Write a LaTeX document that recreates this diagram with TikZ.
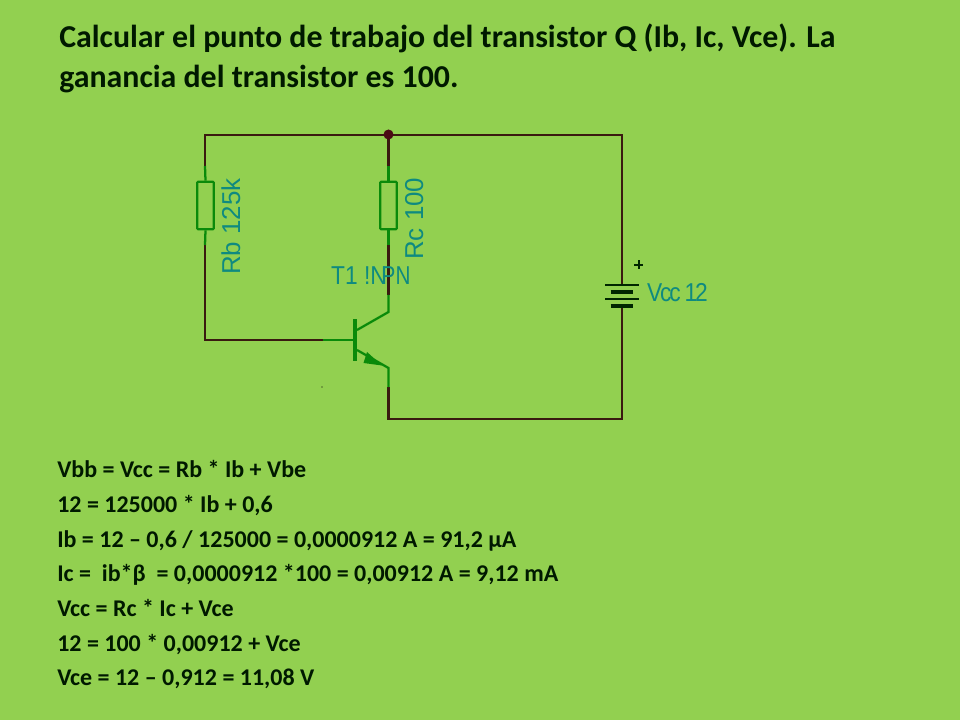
\documentclass[tikz,border=0pt]{standalone}
\usepackage{fontspec}
\setmainfont{Carlito}
\newfontfamily\lblfont{Liberation Sans}
\definecolor{bgc}{HTML}{92D050}
\definecolor{wirec}{HTML}{3A1A10}
\definecolor{compc}{HTML}{0A8A0A}
\definecolor{lblc}{HTML}{0E8A80}
\definecolor{dotc}{HTML}{4A0A14}
\tikzset{
  wire/.style={draw=wirec,line width=1.7pt,line cap=butt,line join=miter},
  comp/.style={draw=compc,line width=1.7pt},
  batplate/.style={draw=black!85!green,line width=1.5pt},
  batthick/.style={draw=black!85!green,line width=3pt},
  titletext/.style={anchor=base west,inner sep=0pt,font=\fontsize{23.9pt}{28pt}\bfseries,text=black!90!green},
  calc/.style={anchor=base west,inner sep=0pt,font=\fontsize{18pt}{21pt}\bfseries,text=black!90!green},
  lbl/.style={inner sep=0pt,text=lblc,font=\lblfont\fontsize{19.4pt}{21pt}\selectfont},
  x=0.75pt,y=-0.75pt
}
\begin{document}
\begin{tikzpicture}
\useasboundingbox (0,0) rectangle (960,720);
\fill[bgc] (0,0) rectangle (960,720);
% title
\node[titletext] (t1) at (59,47.5) {Calcular el punto de trabajo del transistor Q (Ib, Ic, Vce). La};
\node[titletext] (t2) at (59,88) {ganancia del transistor es 100.};
% coordinates
\coordinate (tl) at (205,135);
\coordinate (tm) at (388.5,135);
\coordinate (tr) at (622,135);
\coordinate (br) at (622,419);
\coordinate (bm) at (388.5,419);
\coordinate (rbt) at (205,166);
\coordinate (rbb) at (205,245);
\coordinate (rbl) at (205,340);
\coordinate (bw) at (323,340);
\coordinate (bb) at (354,340);
\coordinate (rct) at (388.5,166);
\coordinate (rcb) at (388.5,295);
\coordinate (ccn) at (388.5,312);
\coordinate (cb) at (357,330);
\coordinate (eb) at (357,350);
\coordinate (ecn) at (388.5,368);
\coordinate (ee) at (388.5,387);
\coordinate (ba) at (622,285);
\coordinate (bc) at (622,306);
% wires
\draw[wire] (rbt) -- (tl) -- (tr) -- (ba);
\draw[wire] (tm) -- (rct);
\draw[wire] (rbb) -- (rbl) -- (bw);
\draw[wire] (rcb) -- (388.5,245);
\draw[wire] (ee) -- (bm) -- (br) -- (bc);
% resistors
\node[comp,draw,rounded corners=0.6pt,minimum width=12.4pt,minimum height=35.5pt,inner sep=0pt] (rb) at (205.5,205.5) {};
\node[comp,draw,rounded corners=0.6pt,minimum width=12.4pt,minimum height=35.5pt,inner sep=0pt] (rc) at (388.5,205.5) {};
\draw[comp] (rbt) -- (rb.north);
\draw[comp] (rb.south) -- (rbb);
\draw[comp] (rct) -- (rc.north);
\draw[comp] (rc.south) -- (388.5,245);
% transistor
\draw[comp] (bw) -- (bb);
\draw[compc,line width=3.2pt] (355,319) -- (355,361);
\draw[comp,line join=miter] (rcb) -- (ccn) -- (cb);
\draw[comp,line join=miter] (eb) -- (ecn) -- (ee);
\fill[compc] (367,352) -- (382,365.5) -- (363.5,363) -- cycle;
% junction
\fill[dotc] (388.5,134.5) circle (5);
\fill[black] (322,387) circle (0.7);
% battery
\draw[batplate] (605,285) -- (639,285);
\draw[batthick] (610.5,292.5) -- (633,292.5);
\draw[batplate] (605,299) -- (639,299);
\draw[batthick] (610.5,306) -- (633,306);
\draw[batplate] (634,265) -- (643,265);
\draw[batplate] (638.5,260.5) -- (638.5,269.5);
% labels
\node[lbl,rotate=90,anchor=base west] (lrb) at (240,275) {Rb 125k};
\node[lbl,rotate=90,anchor=base west] (lrc) at (423,260) {Rc 100};
\node[lbl,anchor=base west,xscale=0.88] (lt1) at (331,285) {T1 !N};
\node[lbl,anchor=base west,xscale=0.8] (lt2) at (381.5,285) {PN};
\node[lbl,anchor=base west,xscale=0.88] (lv) at (647,301) {\addfontfeature{LetterSpace=-10}Vcc 12};
% calculations
\node[calc] (c1) at (57,477) {Vbb = Vcc = Rb * Ib + Vbe};
\node[calc] (c2) at (57,512) {12 = 125000 * Ib + 0,6};
\node[calc] (c3) at (57,547) {Ib = 12 – 0,6 / 125000 = 0,0000912 A = 91,2 µA};
\node[calc] (c4) at (57,581) {Ic =\ \ ib*β\ \ = 0,0000912 *100 = 0,00912 A = 9,12 mA};
\node[calc] (c5) at (57,616) {Vcc = Rc * Ic + Vce};
\node[calc] (c6) at (57,651) {12 = 100 * 0,00912 + Vce};
\node[calc] (c7) at (57,685) {Vce = 12 – 0,912 = 11,08 V};
\end{tikzpicture}
\end{document}
